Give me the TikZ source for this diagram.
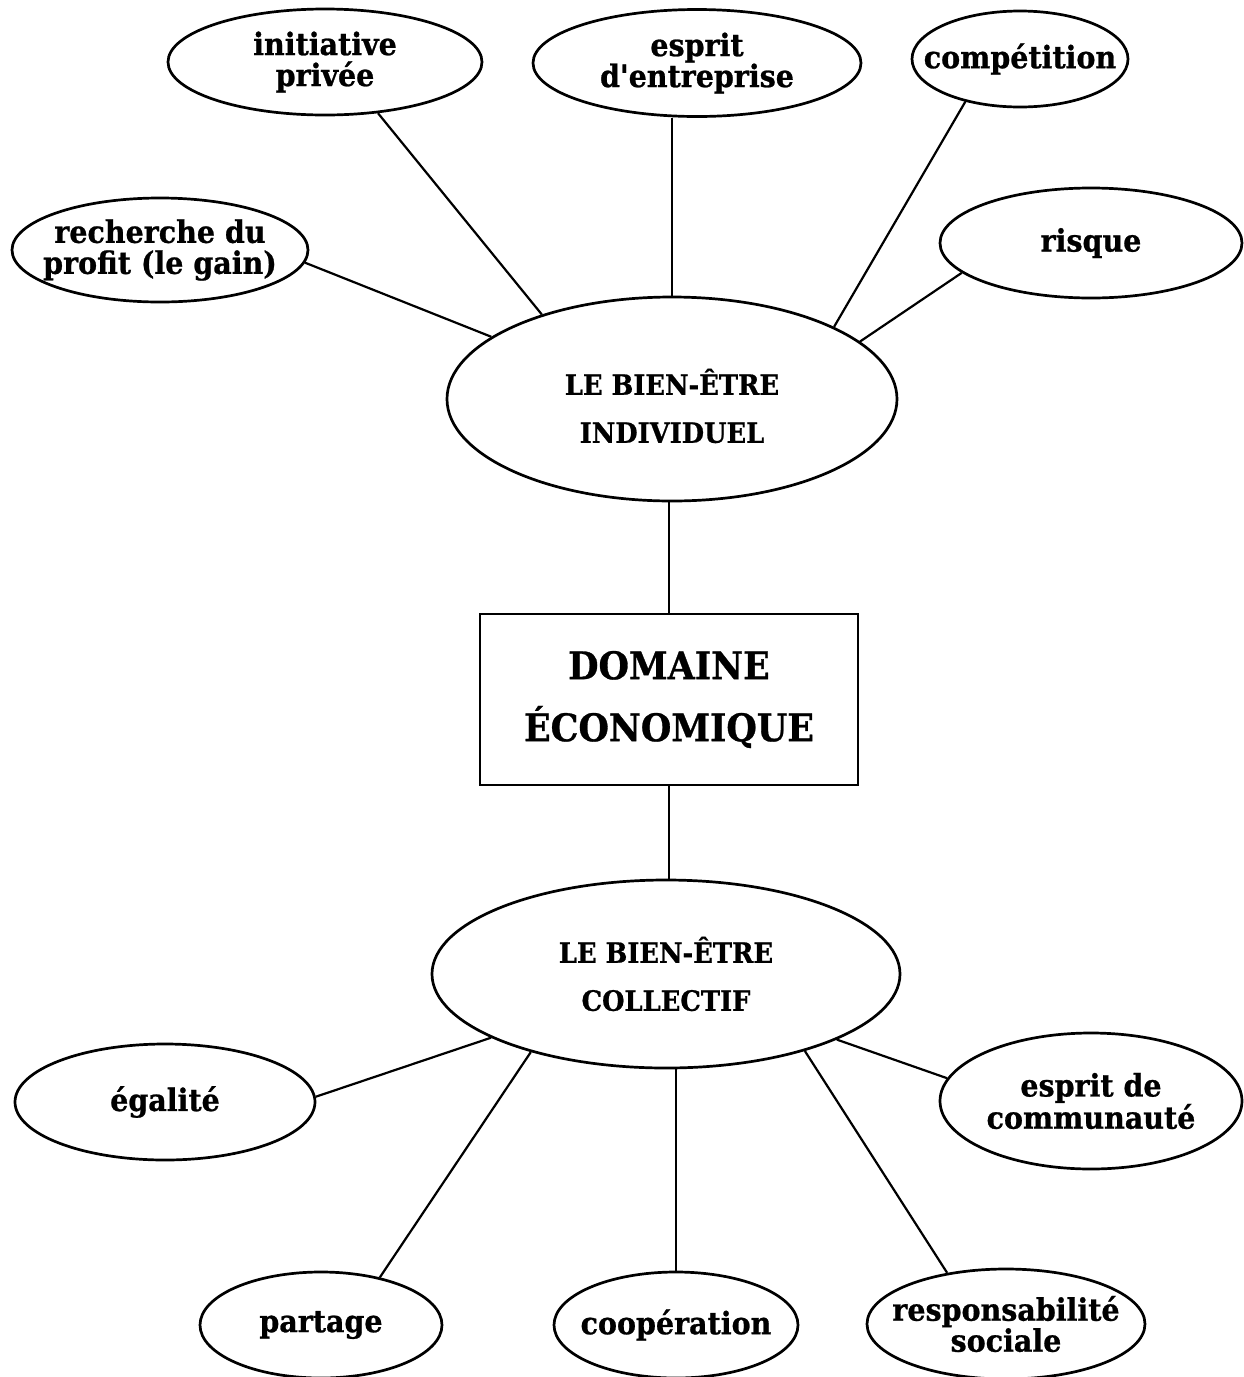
\documentclass[tikz,border=0pt]{standalone}
\usepackage{fontspec}
\newfontfamily\lblfont{DejaVu Serif}[FakeStretch=0.92, BoldFeatures={FakeBold=0.8}]
\usetikzlibrary{shapes.geometric}
\newcommand{\zb}[1]{\makebox[0pt]{#1}}
\begin{document}
\begin{tikzpicture}[x=1pt,y=-1pt,
  ell/.style={draw, ellipse, line width=2.7pt, inner sep=0pt, align=center,
    font=\lblfont\bfseries\fontsize{31}{31}\selectfont},
  bigell/.style={ell, font=\lblfont\bfseries\fontsize{28}{48}\selectfont},
  boxnode/.style={draw, rectangle, line width=2.7pt, inner sep=0pt, align=center,
    font=\lblfont\bfseries\fontsize{38}{62}\selectfont},
  conn/.style={line width=2.2pt}]
\useasboundingbox (0,0) rectangle (1244,1377);
\fill[white] (0,0) rectangle (1244,1377);
% top ellipses
\node[ell, minimum width=314pt, minimum height=106pt] (init) at (325,62) {\zb{initiative}\\\zb{privée}};
\node[ell, minimum width=328pt, minimum height=107pt] (esprit) at (697,63) {\zb{esprit}\\\zb{d'entreprise}};
\node[ell, minimum width=216pt, minimum height=96pt] (comp) at (1020,59) {\zb{compétition}};
\node[ell, minimum width=296pt, minimum height=104pt] (profit) at (160,250) {\zb{recherche du}\\\zb{profit (le gain)}};
\node[ell, minimum width=302pt, minimum height=110pt] (risque) at (1091,243) {\zb{risque}};
% centre
\node[bigell, minimum width=450pt, minimum height=204pt] (indiv) at (672,399) {\zb{\rule{0pt}{40pt}LE BIEN-ÊTRE}\\\zb{INDIVIDUEL}};
\node[boxnode, minimum width=378pt, minimum height=171pt] (box) at (669,699.5) {DOMAINE\\ÉCONOMIQUE};
\node[bigell, minimum width=468pt, minimum height=188pt] (coll) at (666,974) {\zb{\rule{0pt}{22pt}LE BIEN-ÊTRE}\\\zb{COLLECTIF}};
% bottom ellipses
\node[ell, minimum width=300pt, minimum height=116pt] (egal) at (165,1102) {\zb{égalité}};
\node[ell, minimum width=302pt, minimum height=136pt] (commu) at (1091,1101) {\zb{esprit de}\\\zb{communauté}};
\node[ell, minimum width=242pt, minimum height=106pt] (partage) at (321,1325) {\zb{partage}};
\node[ell, minimum width=244pt, minimum height=106pt] (coop) at (676,1325) {\zb{coopération}};
\node[ell, minimum width=278pt, minimum height=110pt] (resp) at (1006,1324) {\zb{responsabilité}\\\zb{sociale}};
% connectors
\draw[conn] (profit.-5) -- (indiv.161.5);
\draw[conn] (init.-44) -- (indiv.147.5);
\draw[conn] (indiv.north) -- (indiv.north |- esprit.south);
\draw[conn] (comp.218.4) -- (indiv.24.7);
\draw[conn] (risque.193.7) -- (indiv.17.4);
\draw[conn] (box.north) -- (box.north |- indiv.south);
\draw[conn] (box.south) -- (box.south |- coll.north);
\draw[conn] (egal.2) -- (coll.200.2);
\draw[conn] (partage.39.3) -- (coll.210.1);
\draw[conn] (coop.north) -- (coop.north |- coll.south);
\draw[conn] (resp.139.6) -- (coll.-29.1);
\draw[conn] (commu.171.3) -- (coll.-21.3);
\end{tikzpicture}
\end{document}
